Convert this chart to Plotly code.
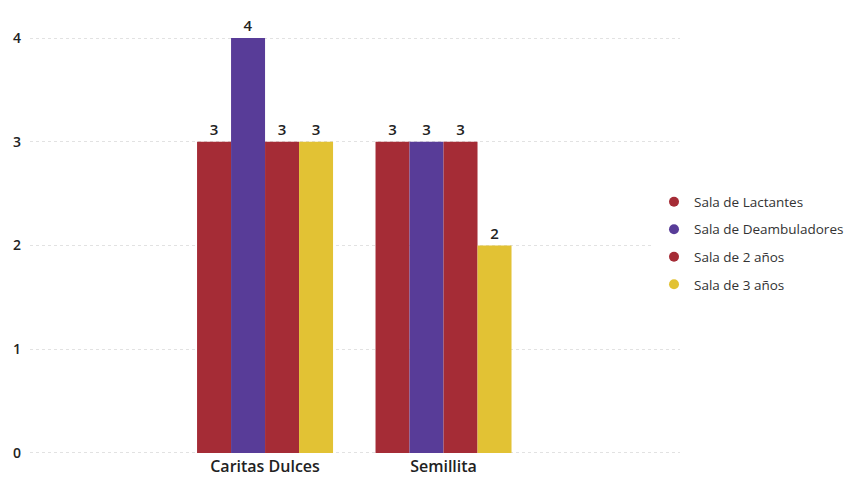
import plotly.graph_objects as go

categories = ["Caritas Dulces", "Semillita"]
series_names = ["Sala de Lactantes", "Sala de Deambuladores", "Sala de 2 años", "Sala de 3 años"]
values = {
    "Sala de Lactantes": [3, 3],
    "Sala de Deambuladores": [4, 3],
    "Sala de 2 años": [3, 3],
    "Sala de 3 años": [3, 2],
}
colors = ["#A52C36", "#583C98", "#A52C36", "#E2C234"]
y_ticks = [0, 1, 2, 3, 4]

FONT = "'Open Sans', sans-serif"

fig = go.Figure()
for name, col in zip(series_names, colors):
    fig.add_trace(go.Bar(
        x=categories, y=values[name], name=name, marker=dict(color=col, line=dict(width=0)),
        text=[str(v) for v in values[name]], textposition="outside",
        textfont=dict(family=FONT, size=15, color="#222", weight=600), cliponaxis=False,
        showlegend=False,
    ))
for i, (name, col) in enumerate(zip(series_names, colors)):
    fig.add_trace(go.Scatter(
        x=[None], y=[None], mode="markers", name=name, legendgroup=f"g{i}",
        marker=dict(color=col, size=10, symbol="circle"), showlegend=True,
    ))

fig.update_layout(
    width=857, height=477,
    paper_bgcolor="white", plot_bgcolor="white",
    margin=dict(l=22, r=185, t=28, b=30),
    barmode="group", bargap=0.238, bargroupgap=0,
    font=dict(family=FONT, size=13, color="#222"),
    showlegend=True,
    legend=dict(x=0.96, xanchor="left", y=0.505, yanchor="middle",
                font=dict(family=FONT, size=13.5, color="#333"),
                tracegroupgap=7, itemwidth=30),
    xaxis=dict(type="category", range=[-1.317, 2.325], showgrid=False, zeroline=False,
               showline=False, ticks="", automargin=False,
               tickfont=dict(family=FONT, size=16, color="#222", weight=600)),
    yaxis=dict(range=[-0.02, 4.02], tickvals=y_ticks, showgrid=True, gridcolor="#e2e2e2",
               griddash="dot", gridwidth=1, zeroline=False, showline=False, automargin=False,
               tickfont=dict(family=FONT, size=14, color="#222", weight=600), ticklabelstandoff=8),
)

fig.write_html("out.html")
